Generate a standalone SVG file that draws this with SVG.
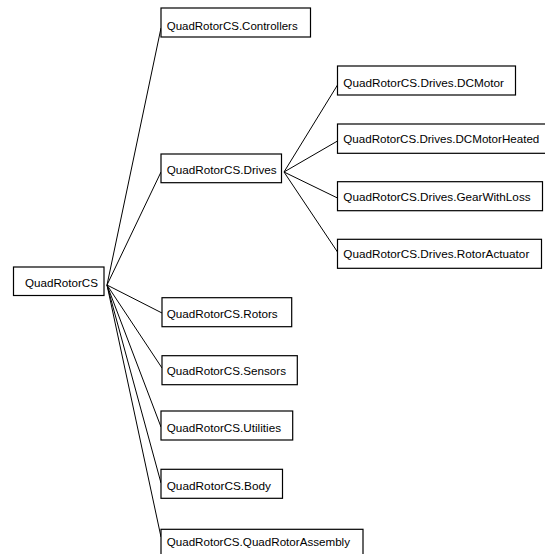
<svg xmlns="http://www.w3.org/2000/svg" width="545" height="554" viewBox="0 0 545 554">
<style>
.box{fill:#fff;stroke:#000;stroke-width:1.2}
.lbl{font-family:"Liberation Sans",Arial,sans-serif;font-size:11.8px;fill:#000}
#edges line{stroke:#000;stroke-width:1}
</style>
<rect width="545" height="554" fill="#fff"/>
<g id="edges">
<line x1="107" y1="285" x2="161" y2="28"/>
<line x1="107" y1="285" x2="161" y2="172"/>
<line x1="107" y1="285" x2="162" y2="313"/>
<line x1="107" y1="285" x2="162" y2="368"/>
<line x1="107" y1="285" x2="161" y2="427"/>
<line x1="107" y1="285" x2="161" y2="483"/>
<line x1="107" y1="285" x2="161" y2="537"/>
<line x1="284" y1="172" x2="337.5" y2="85"/>
<line x1="284" y1="172" x2="337.5" y2="141"/>
<line x1="284" y1="172" x2="337.5" y2="198"/>
<line x1="284" y1="172" x2="337.5" y2="252"/>
</g>
<g id="n-root"><rect class="box" x="13.5" y="267" width="90.5" height="28.5"/><text class="lbl" x="25" y="287.3" textLength="73" lengthAdjust="spacingAndGlyphs">QuadRotorCS</text></g>
<g id="n-controllers"><rect class="box" x="161" y="8" width="149.5" height="29"/><text class="lbl" x="166.7" y="30" textLength="131" lengthAdjust="spacingAndGlyphs">QuadRotorCS.Controllers</text></g>
<g id="n-drives"><rect class="box" x="161" y="154" width="120.5" height="28.7"/><text class="lbl" x="166.7" y="174" textLength="110" lengthAdjust="spacingAndGlyphs">QuadRotorCS.Drives</text></g>
<g id="n-dcmotor"><rect class="box" x="337.5" y="66" width="178" height="29"/><text class="lbl" x="343.3" y="86.7" textLength="160.7" lengthAdjust="spacingAndGlyphs">QuadRotorCS.Drives.DCMotor</text></g>
<g id="n-dcmotorheated"><rect class="box" x="337.5" y="124" width="210" height="29.3"/><text class="lbl" x="343.3" y="143.3" textLength="196" lengthAdjust="spacingAndGlyphs">QuadRotorCS.Drives.DCMotorHeated</text></g>
<g id="n-gear"><rect class="box" x="337.5" y="181.7" width="205" height="29"/><text class="lbl" x="343.3" y="200.7" textLength="187.3" lengthAdjust="spacingAndGlyphs">QuadRotorCS.Drives.GearWithLoss</text></g>
<g id="n-rotoractuator"><rect class="box" x="337.5" y="239.3" width="204" height="29"/><text class="lbl" x="343.3" y="258.3" textLength="186" lengthAdjust="spacingAndGlyphs">QuadRotorCS.Drives.RotorActuator</text></g>
<g id="n-rotors"><rect class="box" x="162" y="297.7" width="129.7" height="29"/><text class="lbl" x="166.7" y="318.3" textLength="111" lengthAdjust="spacingAndGlyphs">QuadRotorCS.Rotors</text></g>
<g id="n-sensors"><rect class="box" x="162" y="355.7" width="135.3" height="29"/><text class="lbl" x="166.7" y="375" textLength="119.3" lengthAdjust="spacingAndGlyphs">QuadRotorCS.Sensors</text></g>
<g id="n-utilities"><rect class="box" x="161" y="411" width="131.7" height="29"/><text class="lbl" x="166.7" y="431.7" textLength="114.3" lengthAdjust="spacingAndGlyphs">QuadRotorCS.Utilities</text></g>
<g id="n-body"><rect class="box" x="161" y="469.3" width="121.5" height="29"/><text class="lbl" x="166.7" y="489.5" textLength="104.3" lengthAdjust="spacingAndGlyphs">QuadRotorCS.Body</text></g>
<g id="n-assembly"><rect class="box" x="161" y="529.3" width="202" height="40"/><text class="lbl" x="166.7" y="546" textLength="183.3" lengthAdjust="spacingAndGlyphs">QuadRotorCS.QuadRotorAssembly</text></g>
</svg>
